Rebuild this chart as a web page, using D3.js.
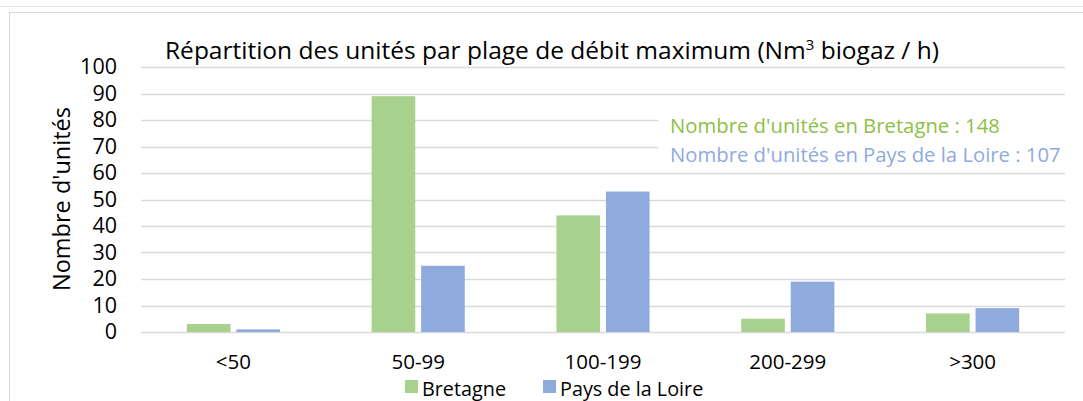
<!DOCTYPE html>
<html><head><meta charset="utf-8">
<script src="https://cdn.jsdelivr.net/npm/d3@7"></script>
<style>
html,body{margin:0;padding:0;background:#fff;}
svg{display:block;font-family:"Open Sans",Lato,sans-serif;}
</style></head>
<body>
<svg id="c" width="1083" height="401"></svg>
<script>
const categories = ["<50","50-99","100-199","200-299",">300"];
const seriesNames = ["Bretagne","Pays de la Loire"];
const bretagne = [3,89,44,5,7];
const paysDeLaLoire = [1,25,53,19,9];
const yTicks = [0,10,20,30,40,50,60,70,80,90,100];
const title = "Répartition des unités par plage de débit maximum (Nm";
const titleSup = "3";
const titleEnd = " biogaz / h)";
const yTitle = "Nombre d'unités";
const notes = ["Nombre d'unités en Bretagne : 148","Nombre d'unités en Pays de la Loire : 107"];

const colors = ["#A9D18E","#8FAADC"];
const noteColors = ["#8DC046","#8FAADC"];
const svg = d3.select("#c");
const W=1083,H=401;
const m={left:141,right:1065,top:67,bottom:332};

// outer borders
svg.append("line").attr("x1",0).attr("x2",W).attr("y1",6.5).attr("y2",6.5).attr("stroke","#E6E6E6");
svg.append("rect").attr("x",9.5).attr("y",12.5).attr("width",W).attr("height",H).attr("fill","none").attr("stroke","#D9D9D9");

const x = d3.scaleBand().domain(categories).range([m.left,m.right]).paddingInner(0).paddingOuter(0);
const y = d3.scaleLinear().domain([0,100]).range([m.bottom,m.top]);
const bw = x.bandwidth();
const barW = bw*0.222, gap = bw*0.06;
const xs = d3.scaleBand().domain(seriesNames).range([bw/2-barW-gap/2, bw/2+barW+gap/2]).paddingInner(gap/(2*barW+gap)).paddingOuter(0);

// gridlines
svg.append("g").selectAll("line").data(yTicks).join("line")
 .attr("x1",m.left).attr("x2",m.right)
 .attr("y1",d=>Math.round(y(d))+0.5).attr("y2",d=>Math.round(y(d))+0.5)
 .attr("stroke","#D9D9D9").attr("stroke-width",1.5);

// y axis labels
const yAxis = d3.axisLeft(y).tickValues(yTicks).tickSize(0).tickPadding(0);
const ga = svg.append("g").attr("transform",`translate(117,0)`).call(yAxis);
ga.select(".domain").remove();
ga.selectAll("text").attr("font-size",21.5).attr("fill","#000").attr("font-family","'Open Sans',sans-serif");

// bars
const data = categories.map((c,i)=>({c,vals:[bretagne[i],paysDeLaLoire[i]]}));
const groups = svg.append("g").selectAll("g").data(data).join("g").attr("transform",d=>`translate(${x(d.c)},0)`);
groups.selectAll("rect").data(d=>d.vals.map((v,j)=>({s:seriesNames[j],v,j}))).join("rect")
 .attr("x",d=>xs(d.s)).attr("width",xs.bandwidth())
 .attr("y",d=>y(d.v)).attr("height",d=>y(0)-y(d.v))
 .attr("fill",d=>colors[d.j]);

// x axis labels
const xAxis = d3.axisBottom(x).tickSize(0).tickPadding(0);
const gx = svg.append("g").attr("transform",`translate(0,${m.bottom+22})`).call(xAxis);
gx.select(".domain").remove();
gx.selectAll("text").attr("font-size",20.5).attr("fill","#000").attr("font-family","'Open Sans',sans-serif");

// y title
svg.append("text").attr("transform","translate(70,199) rotate(-90)").attr("text-anchor","middle")
 .attr("font-size",23.5).text(yTitle);

// title
const t = svg.append("text").attr("x",165).attr("y",59).attr("font-size",24.5).attr("fill","#000");
t.append("tspan").text(title);
t.append("tspan").attr("font-size",15).attr("dy",-9).text(titleSup);
t.append("tspan").attr("dy",9).text(titleEnd);

// notes with white background
svg.append("rect").attr("x",658).attr("y",108).attr("width",415).attr("height",60).attr("fill","#fff");
svg.append("g").selectAll("text").data(notes).join("text")
 .attr("x",670).attr("y",(d,i)=>133+i*29).attr("font-size",20.3).attr("fill",(d,i)=>noteColors[i]).text(d=>d);

// legend
const leg = svg.append("g");
const legX = [405,543];
seriesNames.forEach((s,i)=>{
  leg.append("rect").attr("x",legX[i]).attr("y",380).attr("width",13).attr("height",13).attr("fill",colors[i]);
  leg.append("text").attr("x",legX[i]+17).attr("y",395.5).attr("font-size",19.8).text(s);
});
</script>
</body></html>
